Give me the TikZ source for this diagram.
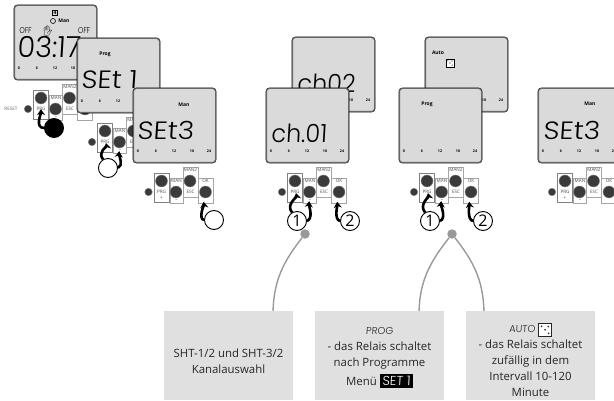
\documentclass[tikz,border=0pt]{standalone}
\usepackage{fontspec}
\setmainfont{Open Sans}
\setsansfont{Open Sans}
\newfontfamily\lcdfont[FakeSlant=0.06]{Poppins Light}
\newfontfamily\iconfont{Noto Emoji}
\usepackage{xcolor}
\usetikzlibrary{arrows.meta,positioning}
\definecolor{lcdgray}{HTML}{DADADA}
\definecolor{boxgray}{HTML}{E0E0E0}
\definecolor{keygray}{HTML}{3A3A3A}
\definecolor{linegray}{HTML}{999999}

% one row of keys, named after its first argument
\newcommand{\keypad}[3]{
  \begin{scope}[shift={(#2,#3)}]
    \node[keybox,draw=gray,minimum width=15pt,minimum height=29pt] (#1-pbox) at (13,-4.5) {};
    \node[keybox,minimum width=13pt,minimum height=25pt] (#1-mbox) at (28,-1.5) {};
    \node[keybox,minimum width=15pt,minimum height=30pt] (#1-ebox) at (42,-10) {};
    \node[keybox,minimum width=15pt,minimum height=25pt] (#1-obox) at (57,-1.5) {};
    \node[keytext] (#1-ptxt) at (13,0) {PRG};
    \node[keytext] (#1-plus) at (13,6) {+};
    \node[keytext] (#1-mtxt) at (28,-11) {MAN};
    \node[keytext] (#1-minus) at (28,9) {--};
    \node[keytext] (#1-ttxt) at (42,-22) {MAN2};
    \node[keytext] (#1-etxt) at (42,0) {ESC};
    \node[keytext] (#1-otxt) at (57,-11) {OK};
    \node[key,minimum size=7.5pt] (#1-rst) at (0,0) {};
    \node[key] (#1-prg) at (13,-11) {};
    \node[key] (#1-man) at (27.5,0) {};
    \node[key] (#1-esc) at (41.5,-11) {};
    \node[key] (#1-ok) at (57,0) {};
  \end{scope}
}
% display with its hour scale
\newcommand{\display}[3]{
  \node[lcdbox] (#1) at (#2,#3) {};
  \foreach \h/\xh in {0/5,6/23,12/41,18/59,24/76}{
    \node[small] at ([shift={(\xh,63)}]#1.north west) {\h};
  }
}
% small die
\newcommand{\die}[1]{%
  \tikz[baseline=-.5ex,x=#1,y=#1]{
    \draw[line width=.6pt,fill=white] (-.5,-.5) rectangle (.5,.5);
    \foreach \p/\q in {-.27/.27,0/0,.27/-.27,.25/.25}{\fill (\p,\q) circle (.07);}
  }}

\begin{document}
\begin{tikzpicture}[
  x=1pt,y=-1pt,
  >=Stealth,
  lcdbox/.style={anchor=north west,minimum width=82pt,minimum height=74pt,fill=lcdgray,
    draw=black!60,line width=1pt,rounded corners=3pt,
    preaction={draw=black,line width=1.7pt}},
  keybox/.style={draw=gray!70,line width=.8pt,fill=white,inner sep=0pt},
  key/.style={circle,fill=keygray,draw=gray,line width=.4pt,minimum size=12pt,inner sep=0pt},
  keytext/.style={font=\fontsize{4.6}{5}\selectfont,text=black!70,inner sep=0pt},
  small/.style={font=\bfseries\fontsize{3.6}{4}\selectfont,inner sep=0pt},
  tag/.style={font=\bfseries\fontsize{5}{6}\selectfont,inner sep=0pt},
  lcd/.style={font=\lcdfont\fontsize{25}{25}\selectfont,anchor=base west,inner sep=0pt,xscale=1.12},
  lcdsmall/.style={font=\lcdfont\fontsize{8.5}{9}\selectfont,inner sep=0pt,xscale=.8},
  press/.style={line width=2.6pt,black,shorten >=3pt,
    arrows={-Stealth[length=6pt,width=8pt]}},
  blob/.style={circle,draw=black,line width=.9pt,fill=white,minimum size=19pt,inner sep=0pt,
    font=\fontsize{16}{16}\selectfont},
  pin/.style={circle,fill=linegray,minimum size=9.5pt,inner sep=0pt},
  wire/.style={linegray,line width=1.4pt},
  note/.style={anchor=north west,fill=boxgray,minimum width=129pt,minimum height=89pt,inner sep=0pt},
  notetext/.style={font=\fontsize{11.4}{16}\selectfont,inner sep=0pt,text=black!85}
]
  \clip (0,0) rectangle (614,401);

  % first stack
  \display{d1}{14}{5}
  \node[draw,line width=.6pt,inner sep=.8pt,font=\bfseries\fontsize{5}{5}\selectfont] (d1day) at (55,13) {4};
  \draw[line width=.6pt] (53,21) circle (2.5);
  \node[tag] (d1man) at (64,21) {Man};
  \node[lcdsmall] (d1off) at (25.5,31) {OFF};
  \node[lcdsmall] (d1offb) at (84,31) {OFF};
  \node[font=\iconfont\fontsize{10}{10}\selectfont,inner sep=0pt] (d1hand) at (48,31) {✋};
  \node[lcd,font=\lcdfont\fontsize{29}{29}\selectfont,xscale=.88] (d1time) at (17,58) {03:17};
  \keypad{c1}{28}{109}
  \node[keytext,text=black!60] (reset) at (11,109) {RESET};
  \node[blob,fill=black] (one) at (54,128) {};
  \draw[press,shorten >=5pt] (one.west) to[out=180,in=-90] (c1-prg.south);

  \display{d2}{77}{38}
  \node[tag] (d2prog) at (105,54) {Prog};
  \node[lcd] (d2set) at (81,89) {SEt 1};
  \keypad{c2}{92}{142}
  \node[blob] (two) at (108,168) {};
  \draw[press,shorten >=6pt] (two.120) to[out=130,in=-80] (c2-prg.south);
  \draw[press] (two.east) to[out=20,in=-95,looseness=.8] (c2-man.south);

  \display{d3}{133}{88}
  \node[tag] (d3man) at (184,105) {Man};
  \node[lcd] (d3set) at (137,140) {SEt3};
  \keypad{c3}{148.5}{192}
  \node[blob] (three) at (214,220) {};
  \draw[press,shorten >=4pt] (three.west) to[out=170,in=-85,looseness=.7] (c3-ok.250);

  % channel stack
  \display{d4}{292}{37}
  \node[lcd,xscale=.85] (d4ch) at (297,93) {ch02};
  \display{d5}{266}{88}
  \node[lcd,xscale=.85] (d5ch) at (271,143) {ch.01};
  \keypad{c4}{282}{192}

  % auto stack
  \display{d6}{425}{37}
  \node[tag] (d6auto) at (438,53) {Auto};
  \node[inner sep=0pt] (d6die) at (450,63) {\die{8pt}};
  \display{d7}{399}{88}
  \node[tag] (d7prog) at (427,104) {Prog};
  \keypad{c5}{414}{192}

  % last display
  \display{d8}{538}{88}
  \node[tag] (d8man) at (590,104) {Man};
  \node[lcd] (d8set) at (543,140) {SEt3};
  \keypad{c6}{552}{192}

  % notes
  \node[note] (n1) at (164,311) {};
  \node[note] (n2) at (315,311) {};
  \node[note] (n3) at (466,311) {};
  \node[notetext,align=center] (n1txt) at (228.5,361) {SHT-1/2 und SHT-3/2\\Kanalauswahl};
  \node[notetext,align=center] (n2txt) at (379.5,358) {{\lcdfont\fontsize{10}{10}\selectfont PROG}\\- das Relais schaltet\\nach Programme\\[3pt]Menü {\fboxsep=2.5pt\colorbox{black}{\textcolor{white}{\lcdfont\fontsize{13}{13}\selectfont SET 1}}}};
  \node[notetext,align=center] (n3txt) at (530.5,360) {{\lcdfont\fontsize{10}{10}\selectfont AUTO} \die{13pt}\\- das Relais schaltet\\zufällig in dem\\Intervall 10-120\\Minute};

  % pins and wires
  \node[pin] (p1) at (305,234) {};
  \node[pin] (p2) at (452,234) {};
  \coordinate (w1) at (273,311);
  \coordinate (w2) at (419,311);
  \coordinate (w3) at (484,311);
  \draw[wire] (p1) to[out=-128,in=88] (w1);
  \draw[wire] (p2) to[out=-128,in=88] (w2);
  \draw[wire] (p2) to[out=-52,in=92] (w3);

  % numbered presses
  \node[blob] (a1) at (297,221) {1};
  \node[blob] (a2) at (350,221) {2};
  \draw[press,shorten >=6pt] (a1.120) to[out=130,in=-80] (c4-prg.south);
  \draw[press] (a1.east) to[out=20,in=-95,looseness=.8] (c4-man.south);
  \draw[press,shorten >=4pt] (a2.west) to[out=170,in=-85,looseness=.7] (c4-ok.250);
  \node[blob] (b1) at (430,221) {1};
  \node[blob] (b2) at (483,221) {2};
  \draw[press,shorten >=6pt] (b1.120) to[out=130,in=-80] (c5-prg.south);
  \draw[press] (b1.east) to[out=20,in=-95,looseness=.8] (c5-man.south);
  \draw[press,shorten >=4pt] (b2.west) to[out=170,in=-85,looseness=.7] (c5-ok.250);
\end{tikzpicture}
\end{document}
